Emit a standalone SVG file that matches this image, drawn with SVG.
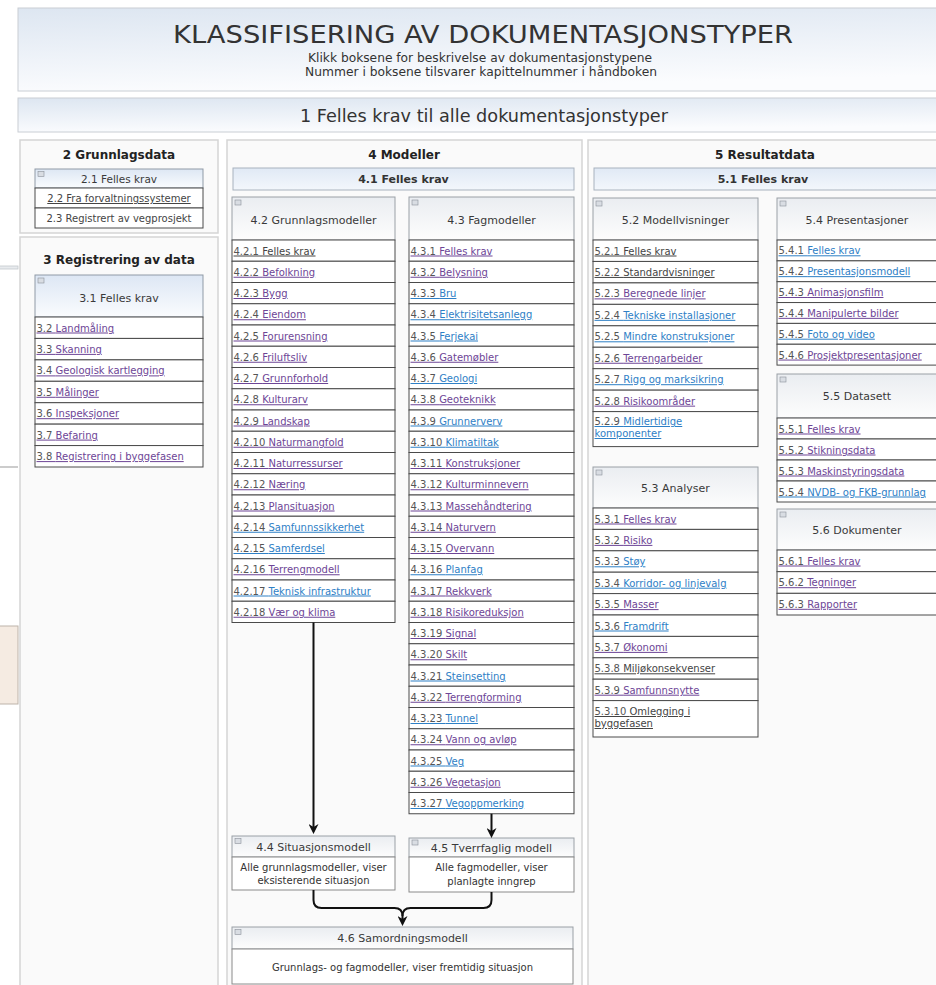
<svg xmlns="http://www.w3.org/2000/svg" width="936" height="985" viewBox="0 0 936 985">
<defs>
<linearGradient id="gTop" x1="0" y1="0" x2="0.25" y2="1"><stop offset="0" stop-color="#dde6f1"/><stop offset="1" stop-color="#fbfcfe"/></linearGradient>
<linearGradient id="gBar" x1="0" y1="0" x2="0" y2="1"><stop offset="0" stop-color="#e0e9f5"/><stop offset="1" stop-color="#f3f7fc"/></linearGradient>
<linearGradient id="gHb" x1="0" y1="0" x2="0" y2="1"><stop offset="0" stop-color="#dde7f4"/><stop offset="1" stop-color="#fafcfe"/></linearGradient>
<linearGradient id="gHg" x1="0" y1="0" x2="0" y2="1"><stop offset="0" stop-color="#eaedf1"/><stop offset="1" stop-color="#fdfdfd"/></linearGradient>
<marker id="ah" viewBox="0 0 10 10" refX="7" refY="5" markerWidth="10" markerHeight="10" markerUnits="userSpaceOnUse" orient="auto"><path d="M0,0 L10,5 L0,10 L3,5 z" fill="#111"/></marker>
</defs>
<style>
text{font-family:"DejaVu Sans",Verdana,sans-serif}
.cond{font-family:"DejaVu Sans Condensed","Liberation Sans Narrow","DejaVu Sans",sans-serif;fill:#333;text-anchor:middle}
.col{fill:#fafafa;stroke:#d5d5d5;stroke-width:1.5}
.bar{fill:url(#gBar);stroke:#a8b2be}
.hb{fill:url(#gHb);stroke:#8f9aa6}
.hg{fill:url(#gHg);stroke:#9aa0a6}
.row{fill:#fff;stroke:#4a4a4a}
.bx{fill:#fff;stroke:#8a8a8a}
.ic{fill:#d9dde3;stroke:#8a9099;stroke-width:.6}
.ct{font-size:12px;font-weight:bold;fill:#222;text-anchor:middle}
.bt{font-size:11px;font-weight:bold;fill:#333;text-anchor:middle}
.ht{font-size:11px;fill:#3a3a3a;text-anchor:middle}
.r{font-size:10px;text-decoration:underline}
.n{fill:#555}
.p{fill:#6d4596}
.b{fill:#2e80c6}
.g{fill:#444}
.body{font-size:10px;fill:#333;text-anchor:middle}
.cn{fill:none;stroke:#111;stroke-width:2}
</style>
<rect width="936" height="985" fill="#fff"/>

<g id="artifacts">
<rect x="-2" y="266" width="20" height="3" fill="#e8ebee" stroke="#c4c8cc" stroke-width=".8"/>
<line x1="0" y1="467" x2="18" y2="467" stroke="#bbb" stroke-width="1.5"/>
<rect x="-2" y="626" width="20" height="78" fill="#f5ebe2" stroke="#bdb3aa"/>
</g>

<g id="header">
<rect x="18" y="8" width="930" height="83" fill="url(#gTop)" stroke="#c9ced4"/>
<text class="cond" x="483" y="43" font-size="25" textLength="620" lengthAdjust="spacingAndGlyphs">KLASSIFISERING AV DOKUMENTASJONSTYPER</text>
<text class="cond" x="480" y="61.5" font-size="12" textLength="344" lengthAdjust="spacingAndGlyphs">Klikk boksene for beskrivelse av dokumentasjonstypene</text>
<text class="cond" x="481" y="75.5" font-size="12" textLength="352" lengthAdjust="spacingAndGlyphs">Nummer i boksene tilsvarer kapittelnummer i håndboken</text>
</g>
<g id="n1">
<rect x="18" y="98" width="930" height="34" fill="url(#gTop)" stroke="#c9ced4"/>
<text class="cond" x="484" y="122" font-size="17" textLength="368" lengthAdjust="spacingAndGlyphs">1 Felles krav til alle dokumentasjonstyper</text>
</g>

<!-- Column 2 -->
<g id="n2">
<rect class="col" x="20" y="140" width="198" height="93"/>
<text class="ct" x="119" y="159">2 Grunnlagsdata</text>
</g>
<g id="n2-1">
<rect class="hb" x="35" y="169" width="168" height="19"/>
<rect class="ic" x="38" y="171.5" width="6" height="5"/>
<text class="ht" x="119" y="182.5" style="font-size:10.5px">2.1 Felles krav</text>
</g>
<g id="n2-2"><rect class="row" x="35" y="188" width="168" height="20"/><text class="r g" x="119" y="202" text-anchor="middle">2.2 Fra forvaltningssystemer</text></g>
<g id="n2-3"><rect class="row" x="35" y="208" width="168" height="20"/><text class="g" x="119" y="222" font-size="10" text-anchor="middle">2.3 Registrert av vegprosjekt</text></g>

<!-- Column 3 -->
<g id="n3">
<rect class="col" x="20" y="237" width="198" height="760"/>
<text class="ct" x="119" y="264">3 Registrering av data</text>
</g>
<g id="n3-1">
<rect class="hb" x="35" y="275" width="168" height="42"/>
<rect class="ic" x="38" y="278" width="6" height="5"/>
<text class="ht" x="119" y="302">3.1 Felles krav</text>
</g>
<g id="n3-rows">
<rect class="row" x="35" y="317" width="168" height="21.43"/><text class="r p" x="36.5" y="331.5"><tspan class="n">3.2 </tspan>Landmåling</text>
<rect class="row" x="35" y="338.43" width="168" height="21.43"/><text class="r p" x="36.5" y="352.9"><tspan class="n">3.3 </tspan>Skanning</text>
<rect class="row" x="35" y="359.86" width="168" height="21.43"/><text class="r p" x="36.5" y="374.4"><tspan class="n">3.4 </tspan>Geologisk kartlegging</text>
<rect class="row" x="35" y="381.29" width="168" height="21.43"/><text class="r p" x="36.5" y="395.8"><tspan class="n">3.5 </tspan>Målinger</text>
<rect class="row" x="35" y="402.71" width="168" height="21.43"/><text class="r p" x="36.5" y="417.2"><tspan class="n">3.6 </tspan>Inspeksjoner</text>
<rect class="row" x="35" y="424.14" width="168" height="21.43"/><text class="r p" x="36.5" y="438.6"><tspan class="n">3.7 </tspan>Befaring</text>
<rect class="row" x="35" y="445.57" width="168" height="21.43"/><text class="r p" x="36.5" y="460.1"><tspan class="n">3.8 </tspan>Registrering i byggefasen</text>
</g>

<!-- Column 4 -->
<g id="n4">
<rect class="col" x="227" y="140" width="355" height="860"/>
<text class="ct" x="404" y="159">4 Modeller</text>
</g>
<g id="n4-1">
<rect class="bar" x="233" y="168" width="341" height="22"/>
<text class="bt" x="403.5" y="183">4.1 Felles krav</text>
</g>
<g id="n4-2">
<rect class="hg" x="232" y="197" width="163" height="43"/>
<rect class="ic" x="235" y="200" width="6" height="5"/>
<text class="ht" x="313.5" y="224">4.2 Grunnlagsmodeller</text>
<rect class="row" x="232" y="240" width="163" height="21.25"/><text class="r g" x="233.5" y="254.5"><tspan class="n">4.2.1 </tspan>Felles krav</text>
<rect class="row" x="232" y="261.25" width="163" height="21.25"/><text class="r p" x="233.5" y="275.75"><tspan class="n">4.2.2 </tspan>Befolkning</text>
<rect class="row" x="232" y="282.5" width="163" height="21.25"/><text class="r p" x="233.5" y="297"><tspan class="n">4.2.3 </tspan>Bygg</text>
<rect class="row" x="232" y="303.75" width="163" height="21.25"/><text class="r p" x="233.5" y="318.25"><tspan class="n">4.2.4 </tspan>Eiendom</text>
<rect class="row" x="232" y="325" width="163" height="21.25"/><text class="r p" x="233.5" y="339.5"><tspan class="n">4.2.5 </tspan>Forurensning</text>
<rect class="row" x="232" y="346.25" width="163" height="21.25"/><text class="r p" x="233.5" y="360.75"><tspan class="n">4.2.6 </tspan>Friluftsliv</text>
<rect class="row" x="232" y="367.5" width="163" height="21.25"/><text class="r p" x="233.5" y="382"><tspan class="n">4.2.7 </tspan>Grunnforhold</text>
<rect class="row" x="232" y="388.75" width="163" height="21.25"/><text class="r p" x="233.5" y="403.25"><tspan class="n">4.2.8 </tspan>Kulturarv</text>
<rect class="row" x="232" y="410" width="163" height="21.25"/><text class="r p" x="233.5" y="424.5"><tspan class="n">4.2.9 </tspan>Landskap</text>
<rect class="row" x="232" y="431.25" width="163" height="21.25"/><text class="r p" x="233.5" y="445.75"><tspan class="n">4.2.10 </tspan>Naturmangfold</text>
<rect class="row" x="232" y="452.5" width="163" height="21.25"/><text class="r p" x="233.5" y="467"><tspan class="n">4.2.11 </tspan>Naturressurser</text>
<rect class="row" x="232" y="473.75" width="163" height="21.25"/><text class="r p" x="233.5" y="488.25"><tspan class="n">4.2.12 </tspan>Næring</text>
<rect class="row" x="232" y="495" width="163" height="21.25"/><text class="r p" x="233.5" y="509.5"><tspan class="n">4.2.13 </tspan>Plansituasjon</text>
<rect class="row" x="232" y="516.25" width="163" height="21.25"/><text class="r b" x="233.5" y="530.75"><tspan class="n">4.2.14 </tspan>Samfunnssikkerhet</text>
<rect class="row" x="232" y="537.5" width="163" height="21.25"/><text class="r b" x="233.5" y="552"><tspan class="n">4.2.15 </tspan>Samferdsel</text>
<rect class="row" x="232" y="558.75" width="163" height="21.25"/><text class="r p" x="233.5" y="573.25"><tspan class="n">4.2.16 </tspan>Terrengmodell</text>
<rect class="row" x="232" y="580" width="163" height="21.25"/><text class="r b" x="233.5" y="594.5"><tspan class="n">4.2.17 </tspan>Teknisk infrastruktur</text>
<rect class="row" x="232" y="601.25" width="163" height="21.25"/><text class="r p" x="233.5" y="615.75"><tspan class="n">4.2.18 </tspan>Vær og klima</text>
</g>
<g id="n4-3">
<rect class="hg" x="409" y="197" width="165" height="43"/>
<rect class="ic" x="412" y="200" width="6" height="5"/>
<text class="ht" x="491.5" y="224">4.3 Fagmodeller</text>
<rect class="row" x="409" y="240" width="165" height="21.25"/><text class="r p" x="410.5" y="254.5"><tspan class="n">4.3.1 </tspan>Felles krav</text>
<rect class="row" x="409" y="261.25" width="165" height="21.25"/><text class="r p" x="410.5" y="275.75"><tspan class="n">4.3.2 </tspan>Belysning</text>
<rect class="row" x="409" y="282.5" width="165" height="21.25"/><text class="r b" x="410.5" y="297"><tspan class="n">4.3.3 </tspan>Bru</text>
<rect class="row" x="409" y="303.75" width="165" height="21.25"/><text class="r b" x="410.5" y="318.25"><tspan class="n">4.3.4 </tspan>Elektrisitetsanlegg</text>
<rect class="row" x="409" y="325" width="165" height="21.25"/><text class="r b" x="410.5" y="339.5"><tspan class="n">4.3.5 </tspan>Ferjekai</text>
<rect class="row" x="409" y="346.25" width="165" height="21.25"/><text class="r p" x="410.5" y="360.75"><tspan class="n">4.3.6 </tspan>Gatemøbler</text>
<rect class="row" x="409" y="367.5" width="165" height="21.25"/><text class="r b" x="410.5" y="382"><tspan class="n">4.3.7 </tspan>Geologi</text>
<rect class="row" x="409" y="388.75" width="165" height="21.25"/><text class="r p" x="410.5" y="403.25"><tspan class="n">4.3.8 </tspan>Geoteknikk</text>
<rect class="row" x="409" y="410" width="165" height="21.25"/><text class="r b" x="410.5" y="424.5"><tspan class="n">4.3.9 </tspan>Grunnerverv</text>
<rect class="row" x="409" y="431.25" width="165" height="21.25"/><text class="r b" x="410.5" y="445.75"><tspan class="n">4.3.10 </tspan>Klimatiltak</text>
<rect class="row" x="409" y="452.5" width="165" height="21.25"/><text class="r p" x="410.5" y="467"><tspan class="n">4.3.11 </tspan>Konstruksjoner</text>
<rect class="row" x="409" y="473.75" width="165" height="21.25"/><text class="r p" x="410.5" y="488.25"><tspan class="n">4.3.12 </tspan>Kulturminnevern</text>
<rect class="row" x="409" y="495" width="165" height="21.25"/><text class="r p" x="410.5" y="509.5"><tspan class="n">4.3.13 </tspan>Massehåndtering</text>
<rect class="row" x="409" y="516.25" width="165" height="21.25"/><text class="r p" x="410.5" y="530.75"><tspan class="n">4.3.14 </tspan>Naturvern</text>
<rect class="row" x="409" y="537.5" width="165" height="21.25"/><text class="r p" x="410.5" y="552"><tspan class="n">4.3.15 </tspan>Overvann</text>
<rect class="row" x="409" y="558.75" width="165" height="21.25"/><text class="r b" x="410.5" y="573.25"><tspan class="n">4.3.16 </tspan>Planfag</text>
<rect class="row" x="409" y="580" width="165" height="21.25"/><text class="r p" x="410.5" y="594.5"><tspan class="n">4.3.17 </tspan>Rekkverk</text>
<rect class="row" x="409" y="601.25" width="165" height="21.25"/><text class="r p" x="410.5" y="615.75"><tspan class="n">4.3.18 </tspan>Risikoreduksjon</text>
<rect class="row" x="409" y="622.5" width="165" height="21.25"/><text class="r p" x="410.5" y="637"><tspan class="n">4.3.19 </tspan>Signal</text>
<rect class="row" x="409" y="643.75" width="165" height="21.25"/><text class="r p" x="410.5" y="658.25"><tspan class="n">4.3.20 </tspan>Skilt</text>
<rect class="row" x="409" y="665" width="165" height="21.25"/><text class="r b" x="410.5" y="679.5"><tspan class="n">4.3.21 </tspan>Steinsetting</text>
<rect class="row" x="409" y="686.25" width="165" height="21.25"/><text class="r p" x="410.5" y="700.75"><tspan class="n">4.3.22 </tspan>Terrengforming</text>
<rect class="row" x="409" y="707.5" width="165" height="21.25"/><text class="r b" x="410.5" y="722"><tspan class="n">4.3.23 </tspan>Tunnel</text>
<rect class="row" x="409" y="728.75" width="165" height="21.25"/><text class="r p" x="410.5" y="743.25"><tspan class="n">4.3.24 </tspan>Vann og avløp</text>
<rect class="row" x="409" y="750" width="165" height="21.25"/><text class="r b" x="410.5" y="764.5"><tspan class="n">4.3.25 </tspan>Veg</text>
<rect class="row" x="409" y="771.25" width="165" height="21.25"/><text class="r p" x="410.5" y="785.75"><tspan class="n">4.3.26 </tspan>Vegetasjon</text>
<rect class="row" x="409" y="792.5" width="165" height="21.25"/><text class="r b" x="410.5" y="807"><tspan class="n">4.3.27 </tspan>Vegoppmerking</text>
</g>
<g id="n4-4">
<rect class="hg" x="232" y="836" width="163" height="21"/>
<rect class="ic" x="235" y="838.5" width="6" height="5"/>
<text class="ht" x="313.5" y="851">4.4 Situasjonsmodell</text>
<rect class="bx" x="232" y="857" width="163" height="33"/>
<text class="body" x="313.5" y="871">Alle grunnlagsmodeller, viser</text>
<text class="body" x="313.5" y="884">eksisterende situasjon</text>
</g>
<g id="n4-5">
<rect class="hg" x="409" y="838" width="165" height="19"/>
<rect class="ic" x="412" y="840" width="6" height="5"/>
<text class="ht" x="491.5" y="852">4.5 Tverrfaglig modell</text>
<rect class="bx" x="409" y="857" width="165" height="35"/>
<text class="body" x="491.5" y="871">Alle fagmodeller, viser</text>
<text class="body" x="491.5" y="885">planlagte inngrep</text>
</g>
<g id="n4-6">
<rect class="hg" x="232" y="927" width="341" height="22"/>
<rect class="ic" x="235" y="929.5" width="6" height="5"/>
<text class="ht" x="402.5" y="942">4.6 Samordningsmodell</text>
<rect class="bx" x="232" y="949" width="341" height="35"/>
<text class="body" x="402.5" y="971">Grunnlags- og fagmodeller, viser fremtidig situasjon</text>
</g>

<!-- Column 5 -->
<g id="n5">
<rect class="col" x="588" y="140" width="360" height="860"/>
<text class="ct" x="765" y="159">5 Resultatdata</text>
</g>
<g id="n5-1">
<rect class="bar" x="594" y="168" width="350" height="22"/>
<text class="bt" x="763" y="183">5.1 Felles krav</text>
</g>
<g id="n5-2">
<rect class="hg" x="593" y="198" width="165" height="42"/>
<rect class="ic" x="596" y="201" width="6" height="5"/>
<text class="ht" x="675.5" y="224">5.2 Modellvisninger</text>
<rect class="row" x="593" y="240" width="165" height="21.45"/><text class="r g" x="594.5" y="254.5"><tspan class="n">5.2.1 </tspan>Felles krav</text>
<rect class="row" x="593" y="261.45" width="165" height="21.45"/><text class="r g" x="594.5" y="275.95"><tspan class="n">5.2.2 </tspan>Standardvisninger</text>
<rect class="row" x="593" y="282.9" width="165" height="21.45"/><text class="r p" x="594.5" y="297.4"><tspan class="n">5.2.3 </tspan>Beregnede linjer</text>
<rect class="row" x="593" y="304.35" width="165" height="21.45"/><text class="r b" x="594.5" y="318.85"><tspan class="n">5.2.4 </tspan>Tekniske installasjoner</text>
<rect class="row" x="593" y="325.8" width="165" height="21.45"/><text class="r b" x="594.5" y="340.3"><tspan class="n">5.2.5 </tspan>Mindre konstruksjoner</text>
<rect class="row" x="593" y="347.25" width="165" height="21.45"/><text class="r p" x="594.5" y="361.75"><tspan class="n">5.2.6 </tspan>Terrengarbeider</text>
<rect class="row" x="593" y="368.7" width="165" height="21.45"/><text class="r b" x="594.5" y="383.2"><tspan class="n">5.2.7 </tspan>Rigg og marksikring</text>
<rect class="row" x="593" y="390.15" width="165" height="21.45"/><text class="r p" x="594.5" y="404.65"><tspan class="n">5.2.8 </tspan>Risikoområder</text>
<rect class="row" x="593" y="411.6" width="165" height="35"/><text class="r b" x="594.5" y="425"><tspan class="n">5.2.9 </tspan>Midlertidige<tspan x="594.5" dy="12">komponenter</tspan></text>
</g>
<g id="n5-3">
<rect class="hg" x="593" y="467" width="165" height="41"/>
<rect class="ic" x="596" y="470" width="6" height="5"/>
<text class="ht" x="675.5" y="492">5.3 Analyser</text>
<rect class="row" x="593" y="508" width="165" height="21.4"/><text class="r p" x="594.5" y="522.5"><tspan class="n">5.3.1 </tspan>Felles krav</text>
<rect class="row" x="593" y="529.4" width="165" height="21.4"/><text class="r p" x="594.5" y="543.9"><tspan class="n">5.3.2 </tspan>Risiko</text>
<rect class="row" x="593" y="550.8" width="165" height="21.4"/><text class="r b" x="594.5" y="565.3"><tspan class="n">5.3.3 </tspan>Støy</text>
<rect class="row" x="593" y="572.2" width="165" height="21.4"/><text class="r b" x="594.5" y="586.7"><tspan class="n">5.3.4 </tspan>Korridor- og linjevalg</text>
<rect class="row" x="593" y="593.6" width="165" height="21.4"/><text class="r p" x="594.5" y="608.1"><tspan class="n">5.3.5 </tspan>Masser</text>
<rect class="row" x="593" y="615" width="165" height="21.4"/><text class="r b" x="594.5" y="629.5"><tspan class="n">5.3.6 </tspan>Framdrift</text>
<rect class="row" x="593" y="636.4" width="165" height="21.4"/><text class="r p" x="594.5" y="650.9"><tspan class="n">5.3.7 </tspan>Økonomi</text>
<rect class="row" x="593" y="657.8" width="165" height="21.4"/><text class="r g" x="594.5" y="672.3"><tspan class="n">5.3.8 </tspan>Miljøkonsekvenser</text>
<rect class="row" x="593" y="679.2" width="165" height="21.4"/><text class="r p" x="594.5" y="693.7"><tspan class="n">5.3.9 </tspan>Samfunnsnytte</text>
<rect class="row" x="593" y="700.6" width="165" height="36.4"/><text class="r g" x="594.5" y="715"><tspan class="n">5.3.10 </tspan>Omlegging i<tspan x="594.5" dy="12">byggefasen</tspan></text>
</g>
<g id="n5-4">
<rect class="hg" x="777" y="198" width="165" height="42"/>
<rect class="ic" x="780" y="201" width="6" height="5"/>
<text class="ht" x="857" y="224">5.4 Presentasjoner</text>
<rect class="row" x="777" y="240" width="165" height="20.85"/><text class="r b" x="778.5" y="254.3"><tspan class="n">5.4.1 </tspan>Felles krav</text>
<rect class="row" x="777" y="260.85" width="165" height="20.85"/><text class="r b" x="778.5" y="275.15"><tspan class="n">5.4.2 </tspan>Presentasjonsmodell</text>
<rect class="row" x="777" y="281.7" width="165" height="20.85"/><text class="r p" x="778.5" y="296"><tspan class="n">5.4.3 </tspan>Animasjonsfilm</text>
<rect class="row" x="777" y="302.55" width="165" height="20.85"/><text class="r p" x="778.5" y="316.85"><tspan class="n">5.4.4 </tspan>Manipulerte bilder</text>
<rect class="row" x="777" y="323.4" width="165" height="20.85"/><text class="r b" x="778.5" y="337.7"><tspan class="n">5.4.5 </tspan>Foto og video</text>
<rect class="row" x="777" y="344.25" width="165" height="20.85"/><text class="r p" x="778.5" y="358.55"><tspan class="n">5.4.6 </tspan>Prosjektpresentasjoner</text>
</g>
<g id="n5-5">
<rect class="hg" x="777" y="374" width="165" height="44"/>
<rect class="ic" x="780" y="377" width="6" height="5"/>
<text class="ht" x="857" y="400">5.5 Datasett</text>
<rect class="row" x="777" y="418" width="165" height="21"/><text class="r p" x="778.5" y="432.5"><tspan class="n">5.5.1 </tspan>Felles krav</text>
<rect class="row" x="777" y="439" width="165" height="21"/><text class="r p" x="778.5" y="453.5"><tspan class="n">5.5.2 </tspan>Stikningsdata</text>
<rect class="row" x="777" y="460" width="165" height="21"/><text class="r p" x="778.5" y="474.5"><tspan class="n">5.5.3 </tspan>Maskinstyringsdata</text>
<rect class="row" x="777" y="481" width="165" height="21"/><text class="r b" x="778.5" y="495.5"><tspan class="n">5.5.4 </tspan>NVDB- og FKB-grunnlag</text>
</g>
<g id="n5-6">
<rect class="hg" x="777" y="509" width="165" height="41"/>
<rect class="ic" x="780" y="512" width="6" height="5"/>
<text class="ht" x="857" y="534">5.6 Dokumenter</text>
<rect class="row" x="777" y="550" width="165" height="21.67"/><text class="r p" x="778.5" y="564.5"><tspan class="n">5.6.1 </tspan>Felles krav</text>
<rect class="row" x="777" y="571.67" width="165" height="21.67"/><text class="r p" x="778.5" y="586.2"><tspan class="n">5.6.2 </tspan>Tegninger</text>
<rect class="row" x="777" y="593.33" width="165" height="21.67"/><text class="r p" x="778.5" y="607.8"><tspan class="n">5.6.3 </tspan>Rapporter</text>
</g>

<g id="connectors">
<path class="cn" d="M313.5,622.5 V831" marker-end="url(#ah)"/>
<path class="cn" d="M491.5,813.75 V835" marker-end="url(#ah)"/>
<path class="cn" d="M313.5,890 V900 Q313.5,908 321.5,908 H394.5 Q402.5,908 402.5,916 V923" marker-end="url(#ah)"/>
<path class="cn" d="M491.5,892 V900 Q491.5,908 483.5,908 H410.5 Q402.5,908 402.5,916"/>
</g>
</svg>
